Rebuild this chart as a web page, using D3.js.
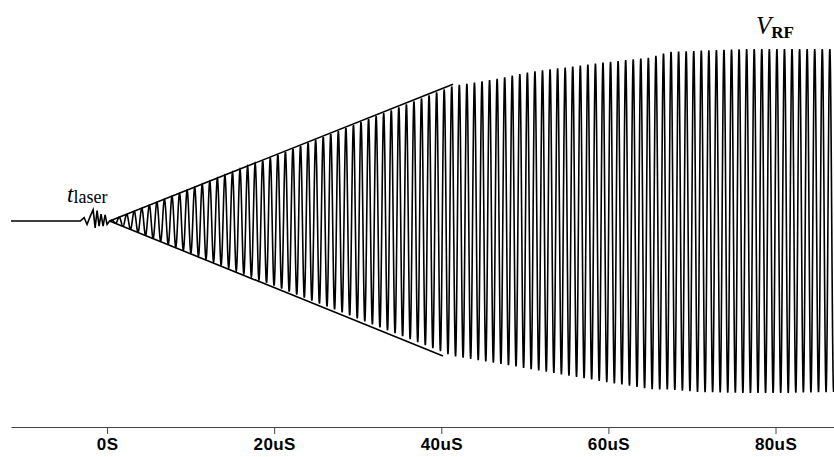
<!DOCTYPE html>
<html>
<head>
<meta charset="utf-8">
<script src="https://cdn.jsdelivr.net/npm/d3@7"></script>
<style>
  body { margin: 0; background: #fff; }
  svg { display: block; }
  .tick text { font-family: "Liberation Sans", Arial, sans-serif; font-weight: bold; font-size: 17px; letter-spacing: 0.4px; }
</style>
</head>
<body>
<div id="chart"></div>
<script>
// chart size
var width = 834;
var height = 457;

// time axis (uS)
var tickValues = [0, 20, 40, 60, 80];
var tickLabels = ["0S", "20uS", "40uS", "60uS", "80uS"];

// envelope of the RF signal (amplitude, full scale = 1)
var envTimes  = [0.3, 41.4, 46.6, 50.6, 59.0, 64.9, 67.3, 70.9, 76.3, 80.5, 87.0];
var envTop    = [0.0, 0.785, 0.826, 0.866, 0.919, 0.95, 0.983, 0.99, 1.0, 1.0, 1.0];
var envBottom = [0.0, -0.785, -0.826, -0.86, -0.93, -0.977, -0.98, -0.994, -1.0, -1.0, -0.994];

// carrier period (uS)
var carrierPeriod = 0.905;

// small pickup around the laser trigger
var laserTimes  = [-11.5, -3.2, -2.75, -2.4, -2.0, -1.67, -1.43, -1.2, -0.96, -0.72, -0.48, -0.24, 0.0, 0.3];
var laserValues = [0, 0, 0.02, -0.02, 0.03, 0.065, -0.04, 0.06, -0.03, 0.04, -0.03, 0.035, -0.02, 0];

// straight guide lines drawn over the rising part
var guideTop    = [{t: 0.3, v: 0}, {t: 41.4, v: 0.795}];
var guideBottom = [{t: 0.3, v: 0}, {t: 40.2, v: -0.785}];

var svg = d3.select("#chart")
  .append("svg")
  .attr("width", width)
  .attr("height", height);

var x = d3.scaleLinear().domain([-11.5, 87]).range([11, 834]);
var y = d3.scaleLinear().domain([-1, 1]).range([393, 49]);

// envelope lookups
var topEnv = d3.scaleLinear().domain(envTimes).range(envTop).clamp(true);
var botEnv = d3.scaleLinear().domain(envTimes).range(envBottom).clamp(true);

// build the trace
var trace = laserTimes.map(function(t, i) { return {t: t, v: laserValues[i]}; });
var step = carrierPeriod / 40;
for (var t = 0.3 + step; t <= 87; t += step) {
  var s = Math.sin(2 * Math.PI * (t - 0.3) / carrierPeriod);
  var a = s >= 0 ? topEnv(t) : -botEnv(t);
  trace.push({t: t, v: a * s});
}

var line = d3.line()
  .x(function(d) { return x(d.t); })
  .y(function(d) { return y(d.v); });

svg.append("path")
  .datum(trace)
  .attr("fill", "none")
  .attr("stroke", "#000")
  .attr("stroke-width", 1.6)
  .attr("d", line);

// guide lines
[guideTop, guideBottom].forEach(function(g) {
  svg.append("path")
    .datum(g)
    .attr("fill", "none")
    .attr("stroke", "#000")
    .attr("stroke-width", 1.6)
    .attr("d", line);
});

// time axis
var axis = d3.axisBottom(x)
  .tickValues(tickValues)
  .tickFormat(function(d, i) { return tickLabels[i]; })
  .tickSize(7)
  .tickSizeOuter(0);

var axisG = svg.append("g")
  .attr("transform", "translate(0,427)")
  .call(axis);
axisG.select(".domain").attr("stroke", "#444").attr("stroke-width", 1);
axisG.selectAll(".tick line").attr("stroke", "#444");
axisG.selectAll(".tick text").attr("fill", "#000").attr("dy", "0.71em").attr("y", 11);

// labels
var tl = svg.append("text")
  .attr("x", 67)
  .attr("y", 202)
  .attr("font-family", "'Liberation Serif', 'Times New Roman', serif");
tl.append("tspan").attr("font-style", "italic").attr("font-size", 23).text("t");
tl.append("tspan").attr("font-size", 18).attr("dy", 1).text("laser");

var vl = svg.append("text")
  .attr("x", 756)
  .attr("y", 34)
  .attr("font-family", "'Liberation Serif', 'Times New Roman', serif");
vl.append("tspan").attr("font-style", "italic").attr("font-size", 25).text("V");
vl.append("tspan").attr("font-size", 17).attr("font-weight", "bold").attr("dy", 4).text("RF");
</script>
</body>
</html>
